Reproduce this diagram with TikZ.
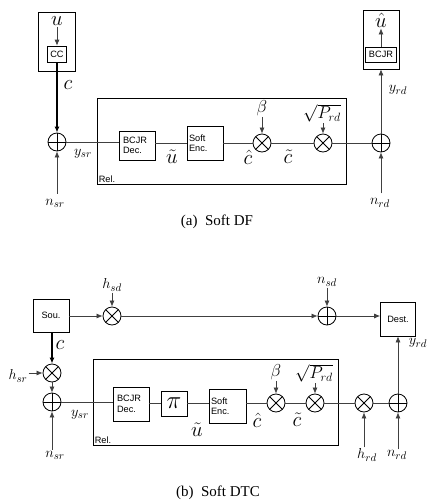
\documentclass[tikz,border=0pt]{standalone}
\usepackage{fontspec}
\setmainfont{Liberation Serif}
\setsansfont{Liberation Sans}
\usetikzlibrary{arrows.meta}

\tikzset{
    blk/.style={draw, line width=0.7pt, inner sep=1pt, align=left, font=\sffamily\fontsize{9.2}{10.5}\selectfont},
    mult/.style={circle, draw, line width=0.8pt, minimum size=18pt, inner sep=0pt,
        path picture={\draw[line width=0.8pt] (path picture bounding box.north west) -- (path picture bounding box.south east)
            (path picture bounding box.north east) -- (path picture bounding box.south west);}},
    adder/.style={circle, draw, line width=0.8pt, minimum size=18pt, inner sep=0pt,
        path picture={\draw[line width=0.8pt] (path picture bounding box.north) -- (path picture bounding box.south)
            (path picture bounding box.west) -- (path picture bounding box.east);}},
    biglbl/.style={inner sep=1pt, font=\fontsize{20}{20}\selectfont},
    lbl/.style={inner sep=1pt, font=\fontsize{15}{15}\selectfont},
    gainlbl/.style={inner sep=1pt, font=\fontsize{16.5}{16.5}\selectfont},
    sflbl/.style={inner sep=2pt, font=\sffamily\fontsize{9.2}{10.5}\selectfont},
    wire/.style={line width=0.7pt, black!75},
    bus/.style={line width=1.2pt, black},
    capt/.style={font=\fontsize{15}{15}\selectfont}
}

\begin{document}
\begin{tikzpicture}[x=1pt, y=-1pt, >={Latex[length=6pt,width=5pt]}]
    \useasboundingbox (0,0) rectangle (427,504);
    % (a) Soft DF
    % Source
    \node[blk, minimum width=37pt, minimum height=59pt] (srca) at (56.5,41.5) {};
    \node[biglbl] (ua) at (57,21) {$u$};
    \node[blk, minimum width=19pt, minimum height=16pt, inner sep=0.5pt] (cc) at (57,54) {CC};
    \draw[wire,->] (ua) -- (cc);
    \node[adder] (ad1) at (57,142) {};
    \draw[bus,->] (cc) -- (ad1);
    \node[biglbl] (ca) at (68,85) {$c$};
    \node[lbl] (nsra) at (55,203) {$n_{sr}$};
    \draw[wire,->,shorten <=4pt] (ad1 |- nsra.north) -- (ad1);
    \node[lbl] (ysra) at (83,154) {$y_{sr}$};
    % Relay
    \node[draw, line width=0.7pt, minimum width=249pt, minimum height=86pt] (rela) at (221.5,141) {};
    \node[sflbl, anchor=south west] (rellbla) at (rela.south west) {Rel.};
    \node[blk, text width=28pt, inner xsep=4pt, minimum height=29pt] (deca) at (137,145.5) {BCJR\\Dec.};
    \draw[wire] (ad1) -- (ad1 -| deca.west);
    \node[blk, text width=32pt, inner xsep=2pt, minimum height=34pt] (enca) at (205,143) {Soft\\Enc.};
    \draw[wire] (deca.east |- enca) -- (enca);
    \node[biglbl] (uta) at (172,157) {$\tilde{u}$};
    \node[mult] (m1a) at (262,143) {};
    \draw[wire] (enca) -- (m1a);
    \node[gainlbl] (betaa) at (262,108) {$\beta$};
    \draw[wire,->] (betaa) -- (m1a);
    \node[biglbl] (cha) at (248,157) {$\hat{c}$};
    \node[mult] (m2a) at (323,143) {};
    \draw[wire] (m1a) -- (m2a);
    \node[gainlbl] (pa) at (322,113) {$\sqrt{P_{rd}}$};
    \draw[wire,->] (pa.south -| m2a) -- (m2a);
    \node[biglbl] (cta) at (288,157) {$\tilde{c}$};
    % Destination
    \node[adder] (ad2) at (381,143) {};
    \draw[wire] (m2a) -- (ad2);
    \node[lbl] (nrda) at (380,203) {$n_{rd}$};
    \draw[wire,->,shorten <=4pt] (ad2 |- nrda.north) -- (ad2);
    \node[blk, minimum width=36pt, minimum height=59pt] (dsta) at (381,39.5) {};
    \node[biglbl] (uha) at (381,20) {$\hat{u}$};
    \node[blk, minimum width=31pt, minimum height=15pt, inner sep=0.5pt] (bcjra) at (381,54.5) {BCJR};
    \draw[wire,->] (bcjra) -- (uha);
    \draw[wire,->] (ad2) -- (dsta);
    \node[lbl] (yrda) at (398,90) {$y_{rd}$};
    \node[capt] (capa) at (217,222) {(a)\enspace Soft DF};

    % (b) Soft DTC
    % Source and direct link
    \node[blk, minimum width=36pt, minimum height=33pt] (sou) at (51,315.5) {Sou.};
    \node[mult] (msd) at (112,316) {};
    \draw[wire,->] (sou.east |- msd) -- (msd);
    \node[lbl] (hsd) at (112,285) {$h_{sd}$};
    \draw[wire,->] (hsd) -- (msd);
    \node[adder] (asd) at (327,316) {};
    \draw[wire,->] (msd) -- (asd);
    \node[lbl] (nsd) at (327,282) {$n_{sd}$};
    \draw[wire,->] (nsd) -- (asd);
    \node[blk, minimum width=35pt, minimum height=34pt] (dest) at (398,319) {Dest.};
    \draw[wire,->] (asd) -- (asd -| dest.west);
    % Source to relay
    \node[mult] (msr) at (52,373) {};
    \draw[bus,->] (sou.south -| msr) -- (msr);
    \node[biglbl] (cb) at (60,345) {$c$};
    \node[lbl] (hsr) at (18,376) {$h_{sr}$};
    \draw[wire,->] (hsr.east |- msr) -- (msr);
    \node[adder] (asr) at (52,402) {};
    \draw[wire,->] (msr) -- (asr);
    \node[lbl] (nsrb) at (55,455) {$n_{sr}$};
    \draw[wire,->] (asr |- nsrb.north) -- (asr);
    \node[lbl] (ysrb) at (80,415) {$y_{sr}$};
    % Relay
    \node[draw, line width=0.7pt, minimum width=245pt, minimum height=86pt] (relb) at (215.5,402) {};
    \node[sflbl, anchor=south west] (rellblb) at (relb.south west) {Rel.};
    \node[blk, text width=28pt, inner xsep=4pt, minimum height=34pt] (decb) at (131,404) {BCJR\\Dec.};
    \draw[wire] (asr) -- (asr -| decb.west);
    \node[blk, minimum width=26pt, minimum height=25pt, font=\fontsize{24}{24}\selectfont] (pib) at (174,403.5) {$\pi$};
    \draw[wire] (decb.east |- pib) -- (pib);
    \node[blk, text width=33pt, inner xsep=2pt, minimum height=34pt] (encb) at (227.5,406) {Soft\\Enc.};
    \draw[wire] (pib) -- (pib -| encb.west);
    \node[biglbl] (utb) at (197,430) {$\tilde{u}$};
    \node[mult] (m1b) at (276,403) {};
    \draw[wire] (encb.east |- m1b) -- (m1b);
    \node[gainlbl] (betab) at (276,372) {$\beta$};
    \draw[wire,->] (betab) -- (m1b);
    \node[biglbl] (chb) at (257,420) {$\hat{c}$};
    \node[mult] (m2b) at (315,403) {};
    \draw[wire] (m1b) -- (m2b);
    \node[gainlbl] (pb) at (314,373) {$\sqrt{P_{rd}}$};
    \draw[wire,->] (pb.south -| m2b) -- (m2b);
    \node[biglbl] (ctb) at (297,420) {$\tilde{c}$};
    % Relay to destination
    \node[mult] (mrd) at (364,403) {};
    \draw[wire] (m2b) -- (mrd);
    \node[lbl] (hrd) at (367,455) {$h_{rd}$};
    \draw[wire,->] (mrd |- hrd.north) -- (mrd);
    \node[adder] (ard) at (398,403) {};
    \draw[wire] (mrd) -- (ard);
    \node[lbl] (nrdb) at (397,455) {$n_{rd}$};
    \draw[wire,->] (ard |- nrdb.north) -- (ard);
    \draw[wire,->] (ard) -- (dest);
    \node[lbl] (yrdb) at (418,343) {$y_{rd}$};
    \node[capt] (capb) at (218,493) {(b)\enspace Soft DTC};
\end{tikzpicture}
\end{document}
